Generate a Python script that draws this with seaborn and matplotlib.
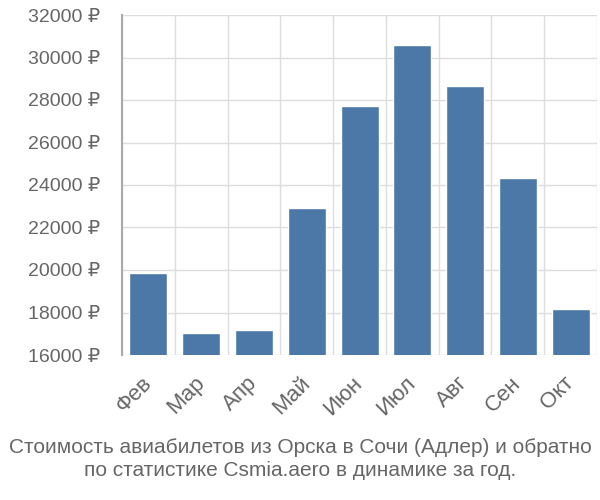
import matplotlib
matplotlib.use("Agg")
import matplotlib.pyplot as plt
import seaborn as sns
import pandas as pd
from matplotlib.ticker import FixedLocator

months = ["Фев", "Мар", "Апр", "Май", "Июн", "Июл", "Авг", "Сен", "Окт"]
prices = [19860, 17040, 17180, 22920, 27700, 30580, 28660, 24340, 18170]
yticks = [16000, 18000, 20000, 22000, 24000, 26000, 28000, 30000, 32000]
title = "Стоимость авиабилетов из Орска в Сочи (Адлер) и обратно\nпо статистике Csmia.aero в динамике за год."

sns.set_theme(style="white")
plt.rcParams['font.family'] = ['Liberation Sans', 'DejaVu Sans']

df = pd.DataFrame({"month": months, "price": prices})

fig = plt.figure(figsize=(6, 5), dpi=100)
ax = fig.add_axes([122/600, 1-355/500, 475/600, 340/500])
sns.barplot(data=df, x="month", y="price", color="#4c78a8", saturation=1,
            width=0.72, ax=ax, zorder=3)

ax.set_ylim(16000, 32000)
ax.set_xlim(-0.5, len(months) - 0.5)
ax.set_yticks(yticks)
ax.set_yticklabels([f"{v} ₽" for v in yticks], fontsize=14, color="#666666")
ax.set_xticks(range(len(months)))
ax.set_xticklabels(months, rotation=45, ha="right", va="center", rotation_mode="anchor",
                   fontsize=16, color="#666666")
ax.xaxis.set_minor_locator(FixedLocator([i - 0.5 for i in range(len(months) + 1)]))
ax.tick_params(axis="x", which="major", length=0, pad=18)
ax.tick_params(axis="x", which="minor", length=14, color="#dddddd", width=1)
ax.tick_params(axis="y", length=14, color="#dddddd", width=1, pad=2)
ax.grid(True, axis="y", color="#dddddd", linewidth=1, zorder=0)
ax.grid(True, axis="x", which="minor", color="#dddddd", linewidth=1, zorder=0)
for s in ["top", "right", "bottom"]:
    ax.spines[s].set_visible(False)
ax.spines["left"].set_color("#aaaaaa")
ax.spines["left"].set_linewidth(1.5)
ax.set_xlabel("")
ax.set_ylabel("")

fig.text(0.5, 0.082, title, ha="center", va="center", fontsize=15,
         color="#666666", linespacing=1.3)

fig.savefig("out.png", dpi=100)
